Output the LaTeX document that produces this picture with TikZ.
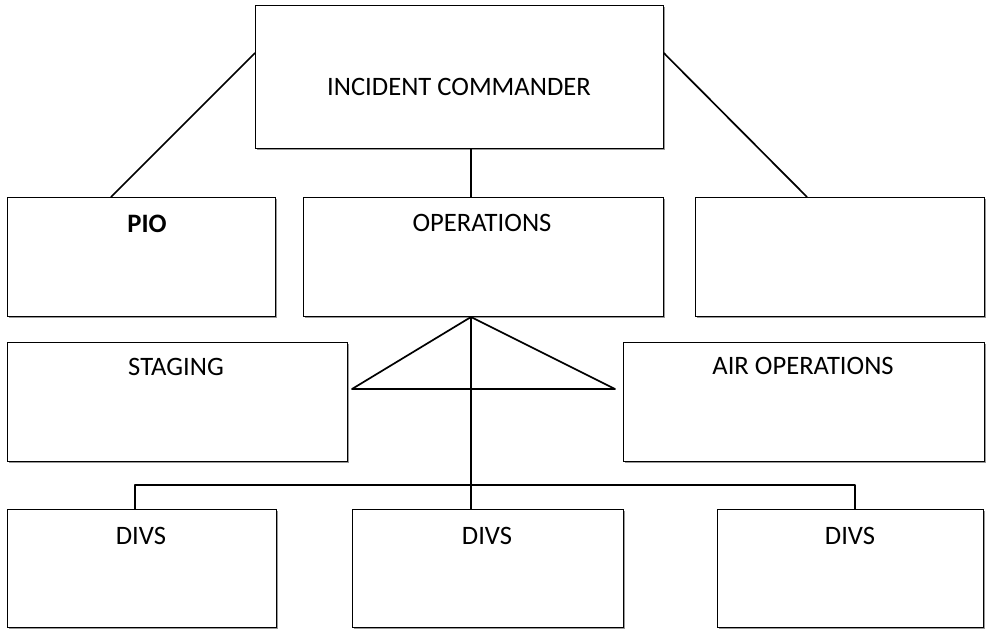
\documentclass[tikz,border=0pt]{standalone}
\usepackage{fontspec}
\setmainfont{Carlito}
\usetikzlibrary{shadows,calc}
\begin{document}
\begin{tikzpicture}[x=1pt,y=-1pt,
  box/.style={draw=black, line width=0.8pt, fill=white, inner sep=0pt, anchor=north west,
    drop shadow={shadow xshift=1.3pt, shadow yshift=-1.3pt, fill=gray!80, opacity=1}},
  lbl/.style={anchor=base, font=\fontsize{26.6}{31}\selectfont, inner sep=0pt},
  conn/.style={line width=1.7pt, line join=round}]
\useasboundingbox (0,0) rectangle (988,629);
% boxes
\node[box, minimum width=408pt, minimum height=143pt] (ic) at (255,5) {};
\node[box, minimum width=268pt, minimum height=119pt] (pio) at (7,197) {};
\node[box, minimum width=360pt, minimum height=119pt] (ops) at (303,197) {};
\node[box, minimum width=289pt, minimum height=119pt] (rt) at (695,197) {};
\node[box, minimum width=340pt, minimum height=119pt] (stg) at (7,342) {};
\node[box, minimum width=361pt, minimum height=119pt] (air) at (623,342) {};
\node[box, minimum width=269pt, minimum height=118pt] (d1) at (7,509) {};
\node[box, minimum width=271pt, minimum height=118pt] (d2) at (352,509) {};
\node[box, minimum width=266pt, minimum height=118pt] (d3) at (717,509) {};
% labels
\node[lbl] (icl) at (459,95) {INCIDENT COMMANDER};
\node[lbl] (piol) at (147,232) {\bfseries PIO};
\node[lbl] (opsl) at (482,231) {OPERATIONS};
\node[lbl] (stgl) at (176,375) {STAGING};
\node[lbl] (airl) at (803,374) {AIR OPERATIONS};
\node[lbl] (d1l) at (141,544) {DIVS};
\node[lbl] (d2l) at (487,544) {DIVS};
\node[lbl] (d3l) at (850,544) {DIVS};
% connector points
\coordinate (apex) at (471,317);
\coordinate (tl) at (352,389);
\coordinate (tr) at (615,389);
\coordinate (busL) at (135,485);
\coordinate (busR) at (855,485);
\coordinate (icL) at ($(ic.north west)+(0,48)$);
\coordinate (icR) at ($(ic.north east)+(0,48)$);
% connectors
\draw[conn] (icL) -- ($(pio.north west)+(104,0)$);
\draw[conn] (icR) -- ($(rt.north west)+(112,0)$);
\draw[conn] (apex |- ic.south) -- (apex |- ops.north);
\draw[conn] (apex) -- (tl) -- (tr) -- cycle;
\draw[conn] (apex) -- (apex |- d2.north);
\draw[conn] (busL |- d1.north) -- (busL) -- (busR) -- (busR |- d3.north);
\end{tikzpicture}
\end{document}
